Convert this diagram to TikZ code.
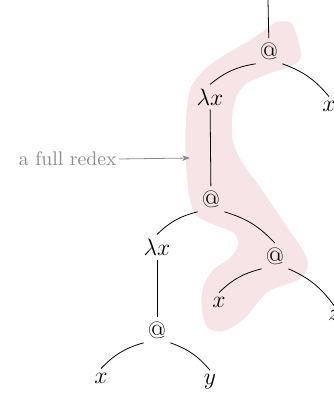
\documentclass[tikz,border=0pt]{standalone}
\usepackage{tikz}
\usetikzlibrary{arrows.meta}
\definecolor{cblob}{HTML}{F6E4E6}
\definecolor{cnote}{HTML}{8A8A8A}

\begin{document}
\begin{tikzpicture}[x=0.0178cm, y=-0.0178cm,
  term/.style={font=\large, inner sep=2pt},
  lft/.style={bend right=15},
  rgt/.style={bend left=15},
  note/.style={text=cnote, inner sep=1pt},
  arr/.style={-{Stealth[length=1.4mm, width=1mm]}, cnote, thin}]
\useasboundingbox (0,0) rectangle (333,398);

% the redex, shaded behind the tree
\fill[cblob] plot[smooth cycle, tension=0.5] coordinates {
  (220,58) (247,42) (262,32) (277,22) (291,23) (297,36) (301,55)
  (294,65) (268,74) (246,84) (236,98) (232,118) (233,142) (242,162)
  (262,190) (287,227) (303,250) (308,265) (302,278) (285,285)
  (266,293) (245,318) (224,331) (208,328) (202,310) (203,288)
  (213,270) (230,258) (238,245) (234,233) (215,225) (196,215)
  (189,195) (186,160) (186,120) (190,90) (202,72)};

\coordinate (root) at (268,0);
\node[term] (a1) at (269,51) {@};
\node[term] (l1) at (210,97) {$\lambda x$};
\node[term] (x1) at (329,106) {$x$};
\node[term] (a2) at (211,199) {@};
\node[term] (l2) at (157,247) {$\lambda x$};
\node[term] (a3) at (275,256) {@};
\node[term] (x3) at (219,302) {$x$};
\node[term] (z3) at (334,315) {$z$};
\node[term] (a4) at (157,330) {@};
\node[term] (x4) at (101,378) {$x$};
\node[term] (y4) at (210,382) {$y$};

\draw (root) -- (a1);
\draw (a1.south west) to[lft] (l1.north);
\draw (a1.south east) to[rgt] (x1.north);
\draw (l1) -- (a2);
\draw (a2.south west) to[lft] (l2.north);
\draw (a2.south east) to[rgt] (a3.north);
\draw (a3.south west) to[lft] (x3.north);
\draw (a3.south east) to[rgt] (z3.north);
\draw (l2) -- (a4);
\draw (a4.south west) to[lft] (x4.north);
\draw (a4.south east) to[rgt] (y4.north);

\node[note, anchor=east] (lbl) at (119,159) {a full redex};
\coordinate (redex) at (190,158);
\draw[arr] (lbl.east) -- (redex);
\end{tikzpicture}
\end{document}
